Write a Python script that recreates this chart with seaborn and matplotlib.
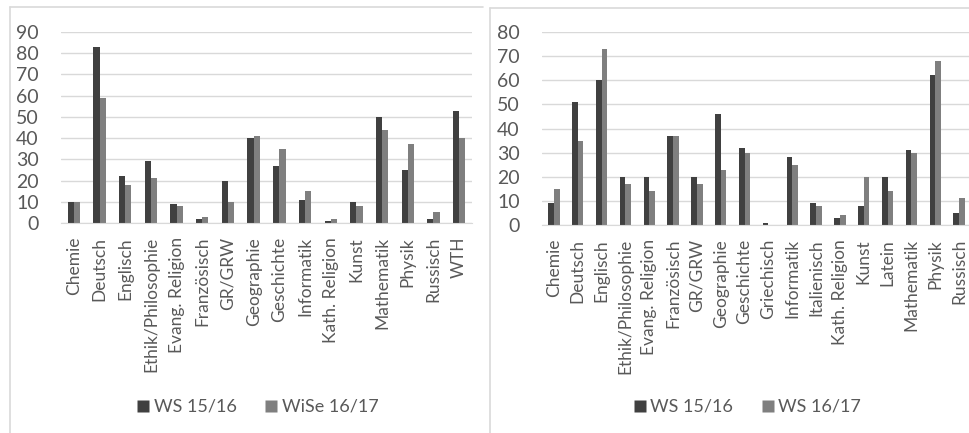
import matplotlib
matplotlib.use("Agg")
import matplotlib.pyplot as plt
import pandas as pd
import seaborn as sns
from matplotlib.lines import Line2D

# ── Data ─────────────────────────────────────────────
left_subjects = ["Chemie", "Deutsch", "Englisch", "Ethik/Philosophie", "Evang. Religion",
                 "Französisch", "GR/GRW", "Geographie", "Geschichte", "Informatik",
                 "Kath. Religion", "Kunst", "Mathematik", "Physik", "Russisch", "WTH"]
left_ws1516 = [10, 83, 22, 29, 9, 2, 20, 40, 27, 11, 1, 10, 50, 25, 2, 53]
left_wise1617 = [10, 59, 18, 21, 8, 3, 10, 41, 35, 15, 2, 8, 44, 37, 5, 40]
left_series = ["WS 15/16", "WiSe 16/17"]

right_subjects = ["Chemie", "Deutsch", "Englisch", "Ethik/Philosophie", "Evang. Religion",
                  "Französisch", "GR/GRW", "Geographie", "Geschichte", "Griechisch",
                  "Informatik", "Italienisch", "Kath. Religion", "Kunst", "Latein",
                  "Mathematik", "Physik", "Russisch"]
right_ws1516 = [9, 51, 60, 20, 20, 37, 20, 46, 32, 1, 28, 9, 3, 8, 20, 31, 62, 5]
right_ws1617 = [15, 35, 73, 17, 14, 37, 17, 23, 30, 0, 25, 8, 4, 20, 14, 30, 68, 11]
right_series = ["WS 15/16", "WS 16/17"]

# ── Style ────────────────────────────────────────────
DARK = "#404040"
LIGHT = "#7f7f7f"
GRID = "#d9d9d9"
TEXT = "#595959"
FRAME = "#d9d9d9"

sns.set_style("white")
plt.rcParams["font.family"] = ["Lato", "DejaVu Sans"]

W, H = 970, 433
fig = plt.figure(figsize=(W / 100, H / 100), dpi=100)


def px_axes(x0, y_top, x1, y_bottom):
    return fig.add_axes([x0 / W, 1 - y_bottom / H, (x1 - x0) / W, (y_bottom - y_top) / H])


def draw_panel(ax, subjects, a, b, names, ymax):
    df = pd.DataFrame({
        "Fach": subjects * 2,
        "Wert": a + b,
        "Semester": [names[0]] * len(subjects) + [names[1]] * len(subjects),
    })
    sns.barplot(data=df, x="Fach", y="Wert", hue="Semester",
                palette=[DARK, LIGHT], width=0.48, gap=0, ax=ax,
                edgecolor="none", linewidth=0, legend=False)
    ax.set_ylim(0, ymax)
    ax.set_xlim(-0.5, len(subjects) - 0.5)
    ax.set_yticks(range(0, ymax + 1, 10))
    ax.yaxis.grid(True, color=GRID, linewidth=1)
    ax.set_axisbelow(True)
    for s in ["top", "right", "left"]:
        ax.spines[s].set_visible(False)
    ax.spines["bottom"].set_color(GRID)
    ax.tick_params(axis="both", length=0, colors=TEXT)
    ax.tick_params(axis="x", rotation=90, pad=10, labelsize=12.5)
    ax.tick_params(axis="y", pad=16, labelsize=14)
    ax.set_xlabel("")
    ax.set_ylabel("")


ax1 = px_axes(61, 32, 472, 223)
draw_panel(ax1, left_subjects, left_ws1516, left_wise1617, left_series, 90)
ax2 = px_axes(542, 32, 971, 225)
draw_panel(ax2, right_subjects, right_ws1516, right_ws1617, right_series, 80)

# legends below each panel
for names, cx in [(left_series, 256 / W), (right_series, 746 / W)]:
    handles = [Line2D([], [], marker="s", linestyle="none", markersize=9,
                      markerfacecolor=c, markeredgecolor="none") for c in (DARK, LIGHT)]
    fig.legend(handles, names, loc="center", bbox_to_anchor=(cx, 1 - 407 / H),
               ncol=2, frameon=False, fontsize=13, labelcolor=TEXT,
               handletextpad=0.1, columnspacing=1.4, handlelength=1.0)

# chart frames
frame_kw = dict(color=FRAME, linewidth=1.2, transform=fig.transFigure)
fig.add_artist(Line2D([10 / W, 483 / W], [1 - 7 / H, 1 - 7 / H], **frame_kw))
fig.add_artist(Line2D([10 / W, 10 / W], [1 - 7 / H, 0], **frame_kw))
fig.add_artist(Line2D([490 / W, 1], [1 - 8 / H, 1 - 8 / H], **frame_kw))
fig.add_artist(Line2D([490 / W, 490 / W], [1 - 8 / H, 0], **frame_kw))

fig.savefig("out.png", dpi=100, facecolor="white")
